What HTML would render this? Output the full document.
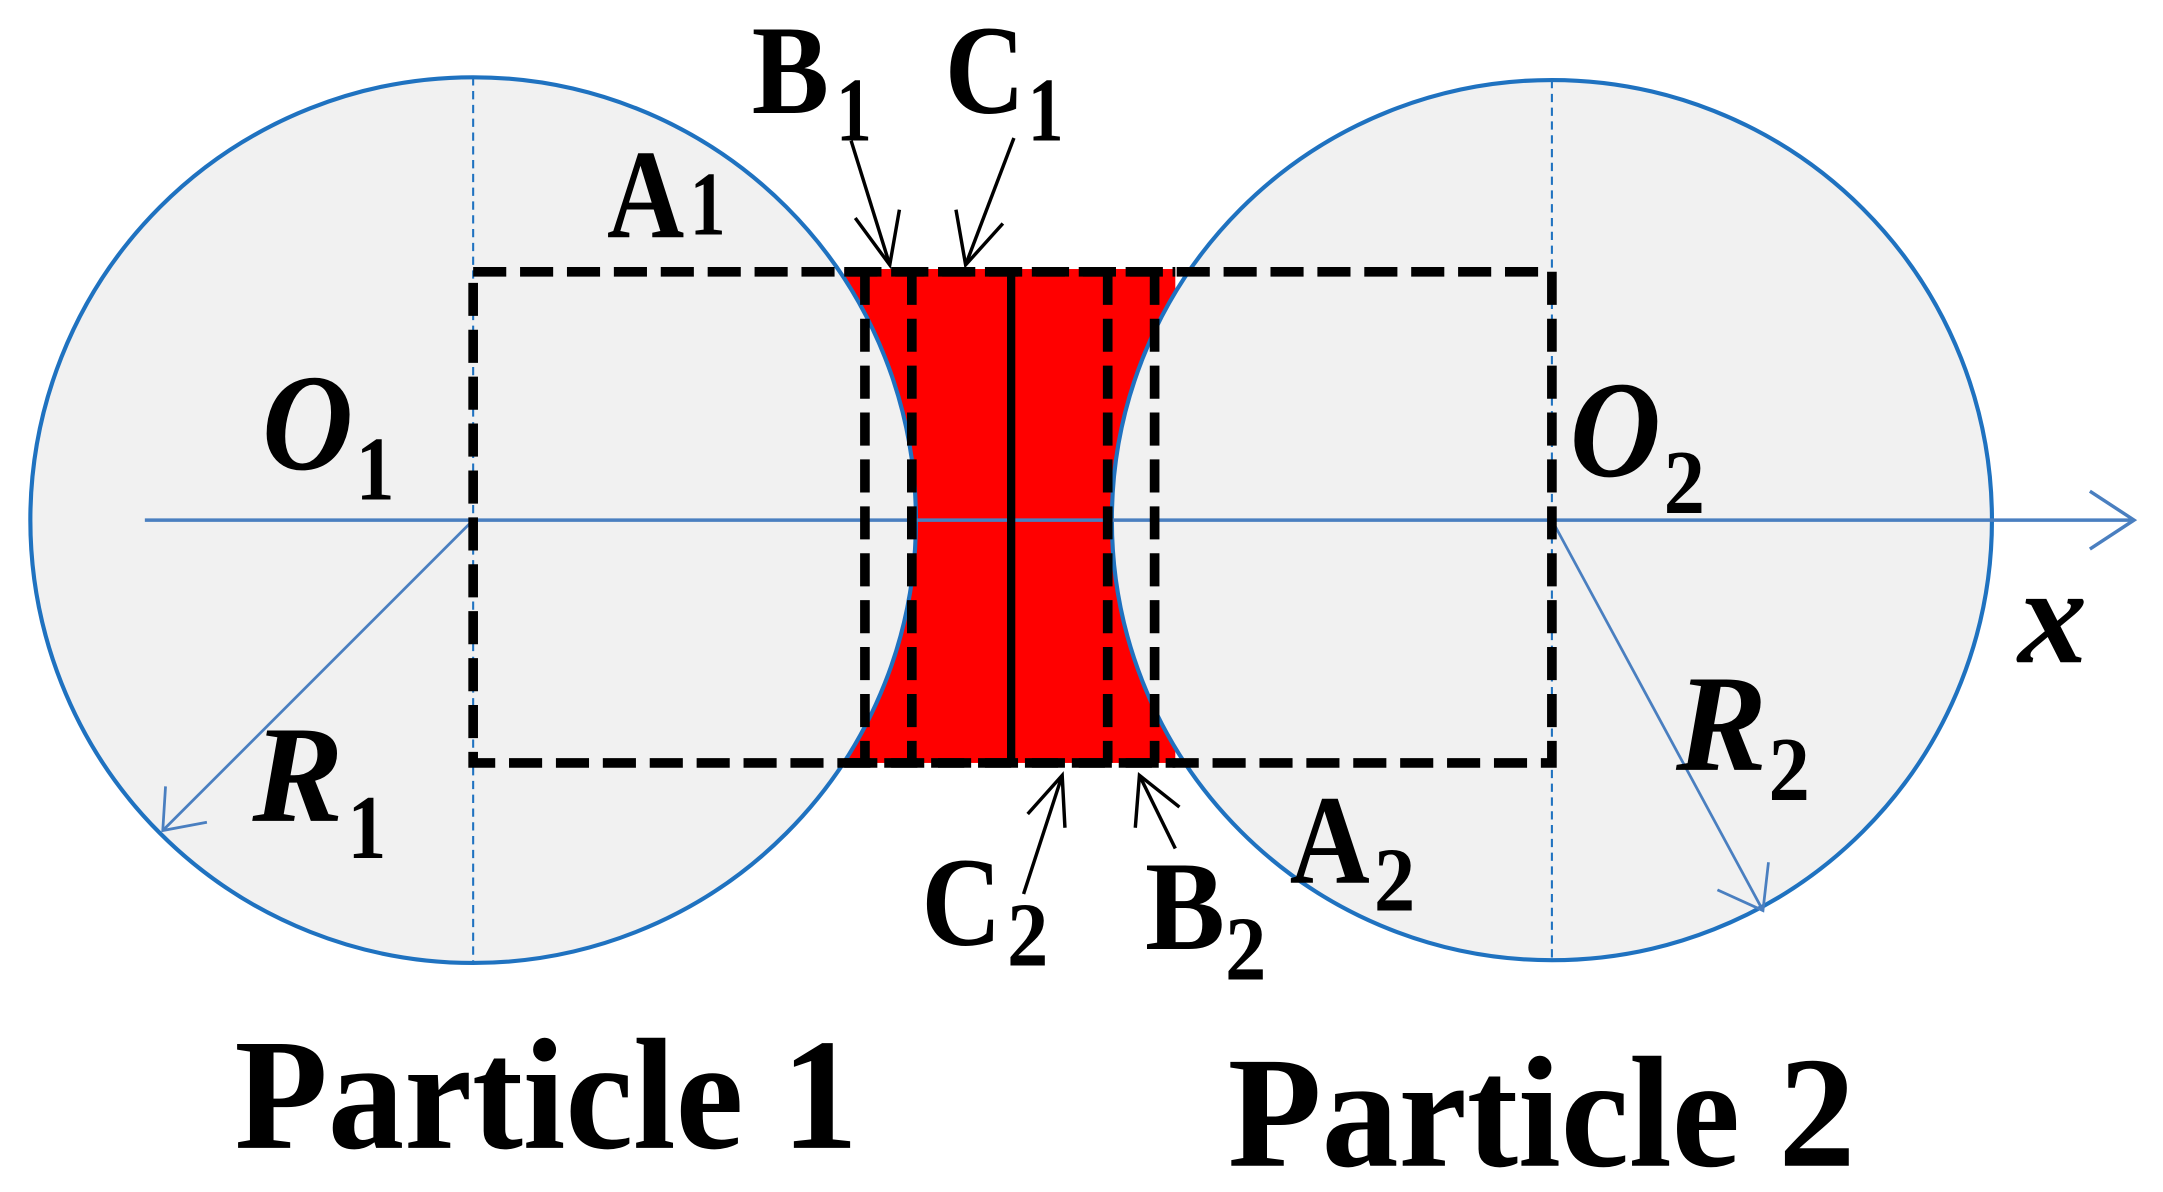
<!DOCTYPE html>
<html><head><meta charset="utf-8"><style>
html,body{margin:0;padding:0;background:#fff;}
svg{display:block;}
text{font-family:"Liberation Serif",serif;font-weight:bold;fill:#000;}
</style></head><body>
<svg width="2163" height="1192" viewBox="0 0 1568 864" preserveAspectRatio="none" xmlns="http://www.w3.org/2000/svg">
<rect x="612" y="195" width="240" height="358" fill="#ff0000"/>
<circle cx="343" cy="377" r="321" fill="#f1f1f1" stroke="#1f72c0" stroke-width="3"/>
<circle cx="1125" cy="377" r="319" fill="#f1f1f1" stroke="#1f72c0" stroke-width="3"/>
<line x1="343" y1="56" x2="343" y2="698" stroke="#1f72c0" stroke-width="1.5" stroke-dasharray="6,4"/>
<line x1="1125" y1="58" x2="1125" y2="696" stroke="#1f72c0" stroke-width="1.5" stroke-dasharray="6,4"/>
<line x1="105" y1="377" x2="1546" y2="377" stroke="#4a7fc0" stroke-width="2.5"/>
<path d="M1515,356 L1547,377 L1515,398" fill="none" stroke="#4a7fc0" stroke-width="2.5"/>
<line x1="343" y1="377" x2="118" y2="602" stroke="#4a7fc0" stroke-width="2"/>
<path d="M120,570 L118,602 L150,596" fill="none" stroke="#4a7fc0" stroke-width="2"/>
<line x1="1125" y1="377" x2="1278" y2="660" stroke="#4a7fc0" stroke-width="2"/>
<path d="M1245,645 L1278,660 L1282,625" fill="none" stroke="#4a7fc0" stroke-width="2"/>
<g fill="none" stroke="#000" stroke-width="7" stroke-dasharray="24,10">
<rect x="343" y="197" width="782" height="356"/>
<line x1="627" y1="197" x2="627" y2="553"/>
<line x1="661" y1="197" x2="661" y2="553"/>
<line x1="803" y1="197" x2="803" y2="553"/>
<line x1="837" y1="197" x2="837" y2="553"/>
<line x1="612" y1="197" x2="852" y2="197"/>
<line x1="612" y1="553" x2="852" y2="553"/>
</g>
<line x1="733" y1="197" x2="733" y2="553" stroke="#000" stroke-width="6"/>
<g stroke="#000" stroke-width="2.5" fill="none">
<line x1="617" y1="102" x2="645" y2="192"/><path d="M620,158 L645,192 L652,152"/>
<line x1="735" y1="100" x2="700" y2="192"/><path d="M693,152 L700,192 L727,162"/>
<line x1="742" y1="648" x2="770" y2="562"/><path d="M745,590 L770,562 L772,600"/>
<line x1="852" y1="615" x2="826" y2="562"/><path d="M823,600 L826,562 L855,585"/>
</g>
<text x="440" y="172" font-size="92" textLength="56" lengthAdjust="spacingAndGlyphs">A</text><text x="500" y="170" font-size="66" textLength="26" lengthAdjust="spacingAndGlyphs">1</text>
<text x="545" y="82" font-size="92" textLength="56" lengthAdjust="spacingAndGlyphs">B</text><text x="606" y="102" font-size="66" textLength="26" lengthAdjust="spacingAndGlyphs">1</text>
<text x="685" y="82" font-size="92" textLength="58" lengthAdjust="spacingAndGlyphs">C</text><text x="745" y="102" font-size="66" textLength="26" lengthAdjust="spacingAndGlyphs">1</text>
<text x="190" y="340" font-size="100" font-style="italic" textLength="66" lengthAdjust="spacingAndGlyphs">O</text><text x="258" y="362" font-size="66" textLength="28" lengthAdjust="spacingAndGlyphs">1</text>
<text x="1138" y="345" font-size="100" font-style="italic" textLength="66" lengthAdjust="spacingAndGlyphs">O</text><text x="1206" y="372" font-size="66" textLength="30" lengthAdjust="spacingAndGlyphs">2</text>
<text x="1463" y="480" font-size="100" font-style="italic">x</text>
<text x="183" y="595" font-size="100" font-style="italic" textLength="66" lengthAdjust="spacingAndGlyphs">R</text><text x="252" y="622" font-size="66" textLength="28" lengthAdjust="spacingAndGlyphs">1</text>
<text x="1215" y="558" font-size="100" font-style="italic" textLength="66" lengthAdjust="spacingAndGlyphs">R</text><text x="1282" y="580" font-size="66" textLength="30" lengthAdjust="spacingAndGlyphs">2</text>
<text x="935" y="640" font-size="92" textLength="58" lengthAdjust="spacingAndGlyphs">A</text><text x="996" y="660" font-size="66" textLength="30" lengthAdjust="spacingAndGlyphs">2</text>
<text x="668" y="685" font-size="92" textLength="58" lengthAdjust="spacingAndGlyphs">C</text><text x="730" y="700" font-size="66" textLength="30" lengthAdjust="spacingAndGlyphs">2</text>
<text x="830" y="688" font-size="92" textLength="58" lengthAdjust="spacingAndGlyphs">B</text><text x="888" y="710" font-size="66" textLength="30" lengthAdjust="spacingAndGlyphs">2</text>
<text x="170" y="832" font-size="115" textLength="452" lengthAdjust="spacingAndGlyphs">Particle 1</text>
<text x="890" y="845" font-size="115" textLength="455" lengthAdjust="spacingAndGlyphs">Particle 2</text>
</svg>
</body></html>
